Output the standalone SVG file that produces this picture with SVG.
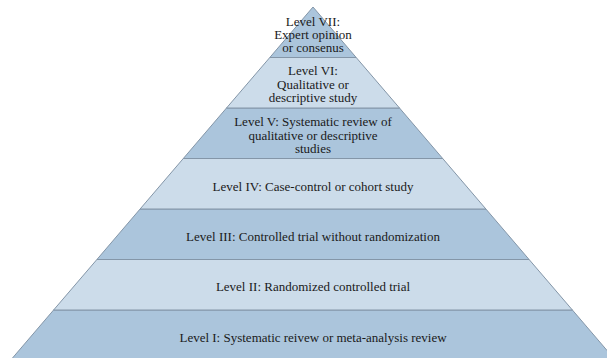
<svg xmlns="http://www.w3.org/2000/svg" width="607" height="358" viewBox="0 0 607 358">
<style>
.dark{fill:#abc5dc;stroke:#8496a8;stroke-width:1}
.light{fill:#ccdcea;stroke:#8496a8;stroke-width:1}
.t{font-family:'Liberation Serif',serif;font-size:13px;fill:#1a1a1a;text-anchor:middle}
</style>
<rect width="607" height="358" fill="#ffffff"/>
<g id="level1"><polygon class="dark" points="53.6,310 572.4,310 615.2,360 10.8,360"/><text class="t" x="313" y="341.5">Level I: Systematic reivew or meta-analysis review</text></g>
<g id="level2"><polygon class="light" points="96.9,259.5 529.1,259.5 572.4,310 53.6,310"/><text class="t" x="313" y="290.5">Level II: Randomized controlled trial</text></g>
<g id="level3"><polygon class="dark" points="140.1,209 485.9,209 529.1,259.5 96.9,259.5"/><text class="t" x="313" y="240.5">Level III: Controlled trial without randomization</text></g>
<g id="level4"><polygon class="light" points="183.3,158.5 442.7,158.5 485.9,209 140.1,209"/><text class="t" x="313" y="190.5">Level IV: Case-control or cohort study</text></g>
<g id="level5"><polygon class="dark" points="226.5,108 399.5,108 442.7,158.5 183.3,158.5"/><text class="t" x="313" y="126">Level V: Systematic review of</text><text class="t" x="313" y="139.5">qualitative or descriptive</text><text class="t" x="313" y="153">studies</text></g>
<g id="level6"><polygon class="light" points="269.8,57.5 356.2,57.5 399.5,108 226.5,108"/><text class="t" x="313" y="75">Level VI:</text><text class="t" x="313" y="88.5">Qualitative or</text><text class="t" x="313" y="101.5">descriptive study</text></g>
<g id="level7"><polygon class="dark" points="313,7 356.2,57.5 269.8,57.5"/><text class="t" x="313" y="25.5">Level VII:</text><text class="t" x="313" y="38.8">Expert opinion</text><text class="t" x="313" y="52">or consenus</text></g>
</svg>
